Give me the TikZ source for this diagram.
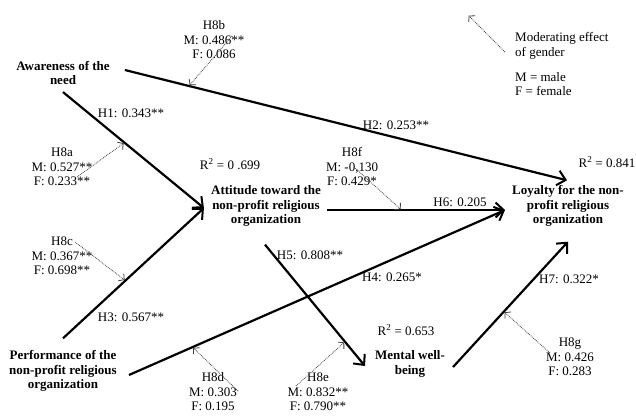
\documentclass[tikz,border=0pt]{standalone}
\usepackage{fontspec}
\setmainfont{Liberation Serif}
\usetikzlibrary{arrows.meta,calc}
\tikzset{
  construct/.style={font=\fontsize{13}{14.5}\selectfont\bfseries, align=center, inner sep=2pt},
  lbl/.style={font=\fontsize{13}{14.5}\selectfont, align=center, inner sep=1pt},
  leglbl/.style={font=\fontsize{13}{14.5}\selectfont, align=left, inner sep=1pt, anchor=west},
  path/.style={line width=2.2pt, -{Straight Barb[length=8pt,width=15pt,line width=2pt]}},
  modarrow/.style={line width=0.8pt, densely dotted, black!75, shorten >=1pt, -{Straight Barb[length=4pt,width=9pt,line width=0.8pt]}}
}
\begin{document}
\begin{tikzpicture}[x=1pt,y=-1pt]
\useasboundingbox (0,0) rectangle (636,415);
% constructs
\node[construct] (aw) at (63,73) {Awareness of the\\need};
\node[construct] (att) at (266,206) {Attitude toward the\\non-profit religious\\organization};
\node[construct] (loy) at (568,206) {Loyalty for the non-\\profit religious\\organization};
\node[construct] (perf) at (63,371) {Performance of the\\non-profit religious\\organization};
\node[construct] (mw) at (410,364) {Mental well-\\being};
% R2 labels
\node[lbl] (r1) at (230,164) {R\textsuperscript{2} = 0 .699};
\node[lbl] (r2) at (607,162) {R\textsuperscript{2} = 0.841};
\node[lbl] (r3) at (406,330) {R\textsuperscript{2} = 0.653};
% path end points
\coordinate (h1s) at ($(aw.south)+(0,5)$);
\coordinate (h2s) at ($(aw.east)+(13,-3)$);
\coordinate (attin) at ($(att.west)+(-5,2)$);
\coordinate (h6s) at ($(att.east)+(4,4)$);
\coordinate (h5s) at ($(att.south)+(-1,16)$);
\coordinate (h2e) at ($(loy.north)+(-1,-3)$);
\coordinate (loyin) at ($(loy.west)+(-5,4)$);
\coordinate (h7e) at ($(loy.south)+(0,13)$);
\coordinate (h3s) at ($(perf.north)+(0,-10)$);
\coordinate (h4s) at ($(perf.east)+(10,4)$);
\coordinate (h5e) at ($(mw.west)+(-8,2)$);
\coordinate (h7s) at ($(mw.east)+(6,3)$);
% paths
\draw[path] (h1s) -- (attin);
\draw[path] (h2s) -- (h2e);
\draw[path] (h3s) -- (attin);
\draw[path] (h4s) -- (loyin);
\draw[path] (h5s) -- (h5e);
\draw[path] (h6s) -- (loyin);
\draw[path] (h7s) -- (h7e);
% hypothesis labels
\node[lbl] (l1) at (131,113) {H1: 0.343**};
\node[lbl] (l2) at (396,125) {H2: 0.253**};
\node[lbl] (l3) at (131,317) {H3: 0.567**};
\node[lbl] (l4) at (392,277) {H4: 0.265*};
\node[lbl] (l5) at (310,255) {H5: 0.808**};
\node[lbl] (l6) at (460,202) {H6: 0.205};
\node[lbl] (l7) at (569,279) {H7: 0.322*};
% moderators
\node[lbl] (h8b) at (214,40) {H8b\\M: 0.486**\\F: 0.086};
\node[lbl] (h8a) at (62,167) {H8a\\M: 0.527**\\F: 0.233**};
\node[lbl] (h8c) at (62,256) {H8c\\M: 0.367**\\F: 0.698**};
\node[lbl] (h8d) at (213,392) {H8d\\M: 0.303\\F: 0.195};
\node[lbl] (h8e) at (318,392) {H8e\\M: 0.832**\\F: 0.790**};
\node[lbl] (h8f) at (352,167) {H8f\\M: -0,130\\F: 0.429*};
\node[lbl] (h8g) at (570,357) {H8g\\M: 0.426\\F: 0.283};
\draw[modarrow] ($(h8b.center)+(18,-4)$) -- ($(h2s)!0.145!(h2e)$);
\draw[modarrow] ($(h8a.center)+(15,10)$) -- ($(h1s)!0.436!(attin)$);
\draw[modarrow] ($(h8c.center)+(13,-14)$) -- ($(h3s)!0.443!(attin)$);
\draw[modarrow] ($(h8d.center)+(25,-1)$) -- ($(h4s)!0.169!(loyin)$);
\draw[modarrow] ($(h8e.center)+(-22,-6)$) -- ($(h5s)!0.8!(h5e)$);
\draw[modarrow] ($(h8f.center)+(2,0)$) -- ($(h6s)!0.418!(loyin)$);
\draw[modarrow] ($(h8g.center)+(-20,-4)$) -- ($(h7s)!0.442!(h7e)$);
% legend
\node[leglbl] (leg) at (514,46) {Moderating effect\\of gender};
\node[leglbl] (leg2) at (514,84) {M = male\\F = female};
\coordinate (legtip) at (468,15);
\draw[modarrow] ($(leg.west)+(-9,6)$) -- (legtip);
\end{tikzpicture}
\end{document}
